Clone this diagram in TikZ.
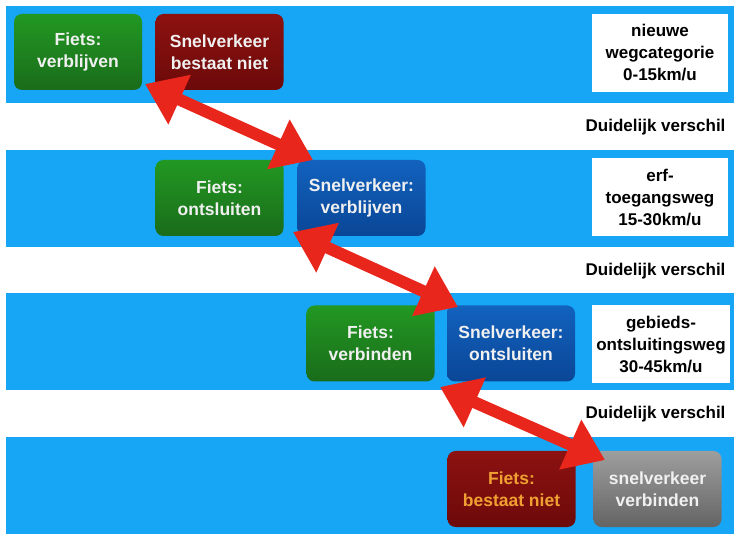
\documentclass[tikz,border=0pt]{standalone}
\usepackage{fontspec}
\setmainfont{Liberation Sans}
\usetikzlibrary{arrows.meta}
\definecolor{band}{RGB}{22,166,245}
\definecolor{gtop}{RGB}{34,152,34}
\definecolor{gbot}{RGB}{26,108,26}
\definecolor{rtop}{RGB}{140,18,16}
\definecolor{rbot}{RGB}{108,10,10}
\definecolor{btop}{RGB}{18,98,190}
\definecolor{bbot}{RGB}{10,70,150}
\definecolor{ytop}{RGB}{158,158,158}
\definecolor{ybot}{RGB}{100,100,100}
\definecolor{txt}{RGB}{240,240,240}
\definecolor{orng}{RGB}{240,160,50}
\definecolor{arr}{RGB}{232,38,28}
\tikzset{
  box/.style={rounded corners=8pt, minimum width=128pt, minimum height=76pt,
    align=center, font=\fontsize{17.5}{22}\selectfont\bfseries, text=txt, inner sep=0pt},
  green/.style={box, top color=gtop, bottom color=gbot},
  dred/.style={box, top color=rtop, bottom color=rbot},
  dblue/.style={box, top color=btop, bottom color=bbot},
  gray/.style={box, top color=ytop, bottom color=ybot},
  label/.style={fill=white, minimum width=136pt, minimum height=78pt, align=center,
    font=\fontsize{17}{22}\selectfont\bfseries, inner sep=0pt},
  verschil/.style={anchor=east, font=\fontsize{17}{20}\selectfont\bfseries},
  bigarrow/.style={draw=arr, line width=12pt,
    {Triangle[length=38pt,width=52pt]}-{Triangle[length=38pt,width=52pt]}}
}
\begin{document}
\begin{tikzpicture}[x=1pt,y=-1pt]
\useasboundingbox (0,0) rectangle (734,534);
\fill[white] (0,0) rectangle (734,534);
% bands
\fill[band] (6,6) rectangle (734,103);
\fill[band] (6,150) rectangle (734,247);
\fill[band] (6,293) rectangle (734,390);
\fill[band] (6,437) rectangle (734,534);
% boxes
\node[green] (fv) at (78,52) {Fiets:\\verblijven};
\node[dred] (sbn) at (219.5,52) {Snelverkeer\\bestaat niet};
\node[green] (fo) at (219.5,198) {Fiets:\\ontsluiten};
\node[dblue] (sv) at (361.5,198) {Snelverkeer:\\verblijven};
\node[green] (fvb) at (370.5,343.5) {Fiets:\\verbinden};
\node[dblue] (so) at (511,343.5) {Snelverkeer:\\ontsluiten};
\node[dred, text=orng] (fbn) at (511.5,489) {Fiets:\\bestaat niet};
\node[gray] (sver) at (657.5,489) {snelverkeer\\verbinden};
% labels
\node[label] (r1) at (660,53) {nieuwe\\wegcategorie\\0-15km/u};
\node[label] (r2) at (660,197.5) {erf-\\toegangsweg\\15-30km/u};
\node[label, minimum width=138pt] (r3) at (661,344.5) {gebieds-\\ontsluitingsweg\\30-45km/u};
\node[verschil] (d1) at (729,127) {Duidelijk verschil};
\node[verschil] (d2) at (729,271) {Duidelijk verschil};
\node[verschil] (d3) at (729,414) {Duidelijk verschil};
% arrows
\coordinate (a1s) at (145,84);
\coordinate (a1e) at (313,160);
\coordinate (a2s) at (293,232);
\coordinate (a2e) at (458,307);
\coordinate (a3s) at (440,387);
\coordinate (a3e) at (605,460);
\draw[bigarrow] (a1s) -- (a1e);
\draw[bigarrow] (a2s) -- (a2e);
\draw[bigarrow] (a3s) -- (a3e);
\end{tikzpicture}
\end{document}
